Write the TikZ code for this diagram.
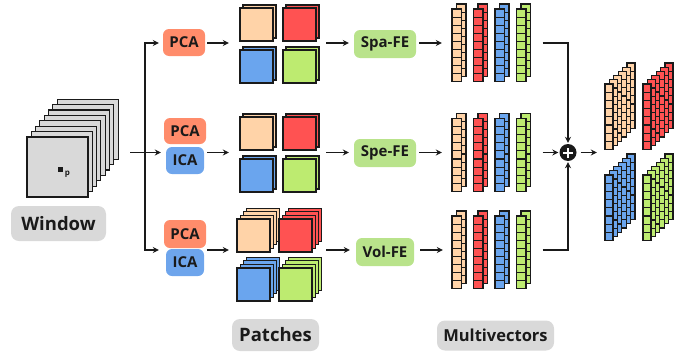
\documentclass[tikz,border=0pt]{standalone}
\usepackage{fontspec}
\setmainfont{Open Sans}
\usetikzlibrary{arrows.meta,fit}

\definecolor{peach}{HTML}{FFD3A8}
\definecolor{redc}{HTML}{FF5252}
\definecolor{bluec}{HTML}{6AA5EE}
\definecolor{greenc}{HTML}{BDEB70}
\definecolor{salmon}{HTML}{FF8C6B}
\definecolor{icablue}{HTML}{6EA5EC}
\definecolor{fegreen}{HTML}{B9E38B}
\definecolor{lblgray}{HTML}{D9D9D9}
\definecolor{ink}{HTML}{1A1A1A}

\tikzset{
  edge/.style={draw=ink, line width=1.1pt},
  arr/.style={draw=ink, line width=1.4pt, -{Stealth[length=6pt,width=6pt]}},
  plain/.style={draw=ink, line width=1.4pt},
  tag/.style={rounded corners=6pt, font=\bfseries\fontsize{15}{15}\selectfont, text=ink, inner sep=0pt},
  lbl/.style={rounded corners=8pt, fill=lblgray, font=\bfseries\fontsize{18.5}{18.5}\selectfont, text=ink, inner sep=0pt},
  ghost/.style={inner sep=0pt, draw=none}
}

% a column of n cells: x, ytop, width, cell height, n, colour
\newcommand\cellcolumn[6]{%
  \foreach \k in {1,...,#5}{%
    \draw[edge, fill=#6] ({#1},{#2+(\k-1)*#4}) rectangle ++(#3,#4);}}

% a stack of square sheets: x, y (front top-left), size, layers-1, dx, dy, colour
\newcommand\sheetstack[7]{%
  \foreach \i in {#4,...,0}{%
    \draw[edge, fill=#7] ({#1+\i*#5},{#2-\i*#6}) rectangle ++(#3,#3);}}

% a multivector column pair: x, ytop, colour
\newcommand\mvcolumn[3]{%
  \cellcolumn{#1+4.5}{#2-5}{9.5}{8.1}{9}{#3}%
  \cellcolumn{#1}{#2}{9.5}{8.1}{9}{#3}}

% a final block of six columns: x, ytop, colour
\newcommand\mvblock[3]{%
  \foreach \i in {5,...,0}{%
    \cellcolumn{#1+\i*4.4}{#2-\i*4.2}{8}{8.2}{8}{#3}}}

\begin{document}
\begin{tikzpicture}[x=1pt,y=-1pt]
\useasboundingbox (0,0) rectangle (695,351);

% row heights of the three branches
\coordinate (r1) at (0,43);
\coordinate (r2) at (0,152.5);
\coordinate (r3) at (0,250);

% ---- input window ----
\foreach \i in {7,...,0}{%
  \draw[edge, fill=lblgray] ({27+\i*4.3},{137-\i*5.4}) rectangle ++(61,60);}
\fill[ink] (58,167) rectangle (63,172);
\node[font=\bfseries\fontsize{8}{8}\selectfont, text=ink] (p) at (67.5,174) {p};
\node[ghost, fit={(27,99) (118,197)}] (win) {};
\node[lbl, minimum width=95pt, minimum height=35pt] (winlbl) at (58.5,223.5) {Window};

% ---- dimensionality reduction ----
\node[tag, fill=salmon, minimum width=42pt, minimum height=27pt] (pca1) at (184,42.5) {PCA};
\node[tag, fill=salmon, minimum width=42pt, minimum height=26pt] (pca2) at (185,131) {PCA};
\node[tag, fill=icablue, minimum width=38pt, minimum height=27pt] (ica2) at (185,160.5) {ICA};
\node[tag, fill=salmon, minimum width=42pt, minimum height=28pt] (pca3) at (185,234) {PCA};
\node[tag, fill=icablue, minimum width=38pt, minimum height=27pt] (ica3) at (185,262.5) {ICA};

\coordinate (split) at (145,152.5);
\draw[plain] ([xshift=12pt]win.east |- r2) -- (split);
\draw[arr, shorten >=5pt] (split) -- (ica2.west |- r2);
\draw[arr, shorten >=4pt] (split) |- (pca1.west |- r1);
\draw[arr, shorten >=5pt] (split) |- (pca3.west |- r3);

% ---- patches ----
\sheetstack{240}{8}{33}{1}{3}{3}{peach}
\sheetstack{283}{8}{33}{1}{3}{3}{redc}
\sheetstack{240}{50}{33}{1}{3}{3}{bluec}
\sheetstack{283}{50}{33}{1}{3}{3}{greenc}
\node[ghost, fit={(240,5) (319,83)}] (pt1) {};

\sheetstack{240}{117}{33}{1}{3}{3}{peach}
\sheetstack{283}{117}{33}{1}{3}{3}{redc}
\sheetstack{240}{159}{33}{1}{3}{3}{bluec}
\sheetstack{283}{159}{33}{1}{3}{3}{greenc}
\node[ghost, fit={(240,114) (319,192)}] (pt2) {};

\sheetstack{237}{219}{33}{3}{3.3}{3.6}{peach}
\sheetstack{279}{219}{33}{3}{3.3}{3.6}{redc}
\sheetstack{237}{268}{33}{3}{3.3}{3.6}{bluec}
\sheetstack{279}{268}{33}{3}{3.3}{3.6}{greenc}
\node[ghost, fit={(237,208) (322,301)}] (pt3) {};

\draw[arr, shorten <=2pt, shorten >=11pt] (pca1.east |- r1) -- (pt1.west |- r1);
\draw[arr, shorten <=3pt, shorten >=11pt] (ica2.east |- r2) -- (pt2.west |- r2);
\draw[arr, shorten <=3pt, shorten >=8pt] (ica3.east |- r3) -- (pt3.west |- r3);

% ---- feature extractors ----
\node[tag, fill=fegreen, minimum width=62pt, minimum height=28pt] (spa) at (385,44) {Spa-FE};
\node[tag, fill=fegreen, minimum width=62pt, minimum height=28pt] (spe) at (385,153) {Spe-FE};
\node[tag, fill=fegreen, minimum width=58pt, minimum height=28pt] (vol) at (385,252) {Vol-FE};

\draw[arr, shorten <=7pt, shorten >=5pt] (pt1.east |- r1) -- (spa.west |- r1);
\draw[arr, shorten <=7pt, shorten >=5pt] (pt2.east |- r2) -- (spe.west |- r2);
\draw[arr, shorten <=4pt, shorten >=6pt] (pt3.east |- r3) -- (vol.west |- r3);

% ---- multivectors ----
\foreach \yt/\n in {9/1, 118.5/2, 216/3}{%
  \mvcolumn{452}{\yt}{peach}
  \mvcolumn{473.5}{\yt}{redc}
  \mvcolumn{495}{\yt}{bluec}
  \mvcolumn{516.5}{\yt}{greenc}
  \node[ghost, fit={(452,\yt-5) (530.5,\yt+72.9)}] (mv\n) {};
}

\draw[arr, shorten <=3pt, shorten >=10pt] (spa.east |- r1) -- (mv1.west |- r1);
\draw[arr, shorten <=3pt, shorten >=10pt] (spe.east |- r2) -- (mv2.west |- r2);
\draw[arr, shorten <=6pt, shorten >=9pt] (vol.east |- r3) -- (mv3.west |- r3);

% ---- fusion ----
\node[circle, fill=ink, minimum size=17pt, inner sep=0pt] (sum) at (568,152.5) {};
\draw[white, line width=2pt] ([xshift=-5pt]sum.center) -- ([xshift=5pt]sum.center)
  ([yshift=-5pt]sum.center) -- ([yshift=5pt]sum.center);

\draw[arr, shorten <=12pt, shorten >=1pt] (mv1.east |- r1) -| (sum.north);
\draw[arr, shorten <=12pt, shorten >=1pt] (mv2.east |- r2) -- (sum.west);
\draw[arr, shorten <=12pt, shorten >=1pt] (mv3.east |- r3) -| (sum.south);

% ---- fused multivectors ----
\mvblock{605}{84}{peach}
\mvblock{643}{84}{redc}
\mvblock{605}{175}{bluec}
\mvblock{643}{175}{greenc}
\node[ghost, fit={(605,63) (673,241)}] (out) {};

\draw[arr, shorten <=4pt, shorten >=8pt] (sum.east) -- (out.west |- sum);

% ---- captions ----
\node[lbl, minimum width=87pt, minimum height=32pt] (patches) at (275.5,335) {Patches};
\node[lbl, minimum width=117pt, minimum height=30pt, font=\bfseries\fontsize{16.5}{16.5}\selectfont] (multi) at (495.5,335.5) {Multivectors};
\end{tikzpicture}
\end{document}
